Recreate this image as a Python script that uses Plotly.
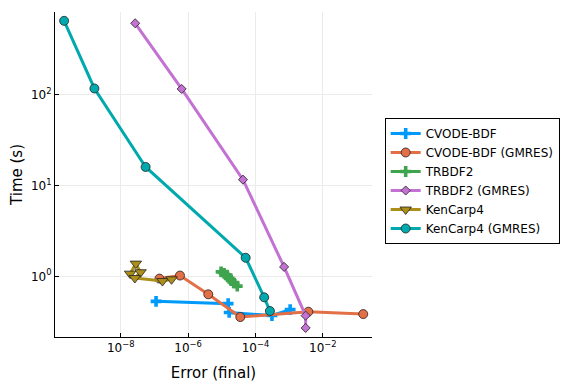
import plotly.graph_objects as go

# log10 values
cvode_x = [-6.95, -4.81, -4.78, -3.51, -2.97]
cvode_y = [0.53, 0.50, 0.40, 0.37, 0.43]

cvode_g_x = [-6.85, -6.24, -5.40, -4.45, -2.43, -0.80]
cvode_g_y = [0.944, 1.02, 0.634, 0.356, 0.408, 0.384]

trbdf2_x = [-5.02, -4.93, -4.84, -4.78, -4.72, -4.63, -4.54]
trbdf2_y = [1.12, 1.08, 1.03, 0.95, 0.90, 0.84, 0.78]

trbdf2_g_x = [-7.57, -6.19, -4.37, -3.15, -2.51, -2.51]
trbdf2_g_y = [611, 115.6, 11.6, 1.27, 0.369, 0.27]

ken_x = [-7.72, -7.55, -7.41, -7.58, -6.76, -6.49]
ken_y = [1.07, 1.38, 1.11, 0.958, 0.887, 0.927]

ken_g_x = [-9.68, -8.78, -7.26, -4.29, -3.74, -3.57]
ken_g_y = [650, 117, 16, 1.6, 0.587, 0.415]

names = ["CVODE-BDF", "CVODE-BDF (GMRES)", "TRBDF2", "TRBDF2 (GMRES)",
         "KenCarp4", "KenCarp4 (GMRES)"]
colors = ["#009AFA", "#E36F47", "#3EA44E", "#C371D2", "#AC8E18", "#00A9AD"]
symbols = ["cross", "circle", "cross", "diamond", "triangle-down", "circle"]
sizes = [9, 9, 9, 7, 10, 9]

xs = [cvode_x, cvode_g_x, trbdf2_x, trbdf2_g_x, ken_x, ken_g_x]
ys = [cvode_y, cvode_g_y, trbdf2_y, trbdf2_g_y, ken_y, ken_g_y]

xtick_vals = [1e-8, 1e-6, 1e-4, 1e-2]
xtick_text = ["10<sup>−8</sup>", "10<sup>−6</sup>", "10<sup>−4</sup>", "10<sup>−2</sup>"]
ytick_vals = [1, 10, 100]
ytick_text = ["10<sup>0</sup>", "10<sup>1</sup>", "10<sup>2</sup>"]

fig = go.Figure()
for i in range(6):
    x = [10 ** v for v in xs[i]]
    y = ys[i]
    is_cross = symbols[i] == "cross"
    fig.add_trace(go.Scatter(
        x=x, y=y, mode="lines+markers", name=names[i],
        line=dict(color=colors[i], width=3),
        marker=dict(symbol=symbols[i], size=sizes[i], color=colors[i],
                    line=dict(color="#222222", width=0 if is_cross else 0.8)),
    ))

# page body has an 8px default margin, so the figure is 8px smaller
fig.update_layout(
    width=568, height=376,
    paper_bgcolor="white", plot_bgcolor="white",
    margin=dict(l=47, r=204, t=4, b=47),
    font=dict(family="DejaVu Sans", size=12, color="black"),
    showlegend=True,
    legend=dict(x=1.04, y=0.48, xanchor="left", yanchor="middle",
                bordercolor="black", borderwidth=1, bgcolor="white",
                font=dict(size=12), tracegroupgap=0, itemwidth=30),
)
fig.update_xaxes(
    type="log", range=[-9.95, -0.54], automargin=False,
    tickvals=xtick_vals, ticktext=xtick_text, tickfont=dict(size=12),
    showgrid=True, gridcolor="#EBEBEB", gridwidth=1,
    showline=True, linecolor="black", linewidth=1,
    ticks="inside", ticklen=4, tickcolor="black",
    zeroline=False, mirror=False,
    title=dict(text="Error (final)", font=dict(size=15), standoff=13),
)
fig.update_yaxes(
    type="log", range=[-0.668, 2.91], automargin=False,
    tickvals=ytick_vals, ticktext=ytick_text, tickfont=dict(size=12),
    showgrid=True, gridcolor="#EBEBEB", gridwidth=1,
    showline=True, linecolor="black", linewidth=1,
    ticks="inside", ticklen=4, tickcolor="black",
    zeroline=False, mirror=False,
    title=dict(text="Time (s)", font=dict(size=15), standoff=8),
)

fig.write_html("out.html")
